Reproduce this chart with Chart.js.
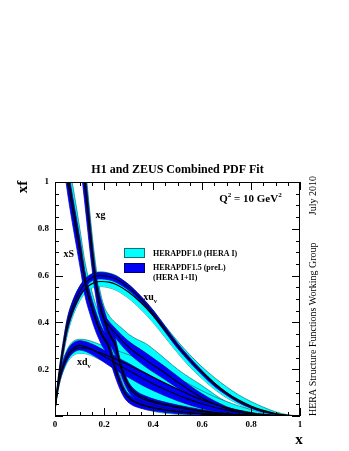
<!DOCTYPE html>
<html>
<head>
<meta charset="utf-8">
<title>H1 and ZEUS Combined PDF Fit</title>
<script src="https://cdn.jsdelivr.net/npm/chart.js@4.4.1/dist/chart.umd.min.js"></script>
<style>
  html, body { margin: 0; padding: 0; background: #fff; }
  #pdfChart { display: block; }
</style>
</head>
<body>
<canvas id="pdfChart" width="349" height="451"></canvas>
<script>
// x grid shared by the valence distributions
const xValence = [0, 0.005, 0.01, 0.02, 0.03, 0.05, 0.07, 0.1, 0.13, 0.16, 0.19, 0.22, 0.25, 0.3, 0.35, 0.4, 0.45, 0.5, 0.55, 0.6, 0.65, 0.7, 0.75, 0.8, 0.85, 0.9, 0.95, 1];

// xu_v : HERAPDF1.5 (central, low, high) and HERAPDF1.0
const xuv15   = [0.03, 0.07, 0.12, 0.20, 0.27, 0.39, 0.46, 0.53, 0.575, 0.596, 0.60, 0.596, 0.585, 0.55, 0.50, 0.44, 0.37, 0.30, 0.24, 0.185, 0.135, 0.095, 0.062, 0.037, 0.019, 0.008, 0.002, 0];
const xuv15Lo = [0.025, 0.062, 0.105, 0.18, 0.245, 0.36, 0.432, 0.505, 0.558, 0.582, 0.586, 0.582, 0.571, 0.537, 0.487, 0.427, 0.358, 0.289, 0.230, 0.176, 0.127, 0.089, 0.057, 0.033, 0.016, 0.006, 0.001, 0];
const xuv15Hi = [0.035, 0.08, 0.135, 0.22, 0.293, 0.415, 0.485, 0.553, 0.592, 0.61, 0.613, 0.609, 0.598, 0.563, 0.513, 0.453, 0.382, 0.311, 0.250, 0.194, 0.143, 0.101, 0.067, 0.041, 0.022, 0.010, 0.003, 0];
const xuv10   = [0.03, 0.068, 0.116, 0.193, 0.26, 0.375, 0.443, 0.51, 0.55, 0.57, 0.575, 0.572, 0.562, 0.53, 0.485, 0.43, 0.365, 0.30, 0.24, 0.188, 0.14, 0.1, 0.068, 0.043, 0.024, 0.011, 0.003, 0];
const xuv10Lo = [0.022, 0.057, 0.1, 0.172, 0.236, 0.345, 0.418, 0.49, 0.532, 0.55, 0.553, 0.548, 0.537, 0.503, 0.456, 0.40, 0.335, 0.27, 0.21, 0.16, 0.115, 0.078, 0.05, 0.028, 0.013, 0.004, 0.001, 0];
const xuv10Hi = [0.036, 0.08, 0.135, 0.22, 0.293, 0.415, 0.485, 0.553, 0.594, 0.612, 0.616, 0.611, 0.6, 0.56, 0.51, 0.452, 0.385, 0.32, 0.262, 0.21, 0.165, 0.125, 0.09, 0.062, 0.038, 0.018, 0.005, 0];

// xd_v
const xdv15   = [0.035, 0.075, 0.11, 0.165, 0.205, 0.257, 0.287, 0.302, 0.295, 0.28, 0.262, 0.243, 0.224, 0.195, 0.165, 0.138, 0.113, 0.09, 0.07, 0.052, 0.037, 0.025, 0.016, 0.009, 0.004, 0.0015, 0.0003, 0];
const xdv15Lo = [0.03, 0.066, 0.097, 0.148, 0.185, 0.236, 0.266, 0.282, 0.274, 0.257, 0.237, 0.216, 0.196, 0.165, 0.135, 0.109, 0.086, 0.065, 0.047, 0.032, 0.021, 0.013, 0.007, 0.003, 0.001, 0, 0, 0];
const xdv15Hi = [0.04, 0.084, 0.123, 0.182, 0.225, 0.278, 0.308, 0.322, 0.316, 0.303, 0.287, 0.27, 0.252, 0.225, 0.195, 0.167, 0.14, 0.115, 0.093, 0.072, 0.053, 0.037, 0.025, 0.015, 0.007, 0.003, 0.001, 0];
const xdv10   = [0.035, 0.075, 0.11, 0.163, 0.2, 0.25, 0.278, 0.292, 0.29, 0.28, 0.268, 0.255, 0.242, 0.218, 0.192, 0.166, 0.14, 0.115, 0.09, 0.068, 0.05, 0.035, 0.023, 0.013, 0.007, 0.003, 0.001, 0];
const xdv10Lo = [0.028, 0.064, 0.095, 0.145, 0.18, 0.228, 0.255, 0.268, 0.265, 0.253, 0.238, 0.222, 0.205, 0.175, 0.145, 0.117, 0.09, 0.068, 0.049, 0.034, 0.022, 0.013, 0.007, 0.003, 0.001, 0, 0, 0];
const xdv10Hi = [0.042, 0.088, 0.128, 0.186, 0.23, 0.285, 0.315, 0.328, 0.325, 0.315, 0.303, 0.292, 0.28, 0.262, 0.24, 0.215, 0.19, 0.162, 0.135, 0.108, 0.083, 0.062, 0.043, 0.028, 0.016, 0.007, 0.002, 0];

// xS (sea)
const xSea    = [0.045, 0.053, 0.07, 0.09, 0.105, 0.122, 0.14, 0.165, 0.19, 0.218, 0.245, 0.265, 0.285, 0.31, 0.35, 0.4, 0.5, 0.6, 0.7, 0.8];
const xS15    = [1.06, 1.0, 0.89, 0.77, 0.68, 0.57, 0.495, 0.41, 0.345, 0.295, 0.2, 0.14, 0.095, 0.068, 0.048, 0.034, 0.018, 0.009, 0.003, 0];
const xS15Lo  = [1.0, 0.94, 0.83, 0.71, 0.62, 0.515, 0.445, 0.365, 0.305, 0.257, 0.17, 0.115, 0.075, 0.05, 0.033, 0.022, 0.01, 0.004, 0.001, 0];
const xS15Hi  = [1.12, 1.06, 0.95, 0.83, 0.735, 0.62, 0.54, 0.45, 0.38, 0.327, 0.23, 0.165, 0.115, 0.085, 0.063, 0.046, 0.026, 0.014, 0.005, 0];
const xS10    = [1.09, 1.03, 0.92, 0.795, 0.7, 0.587, 0.51, 0.422, 0.355, 0.304, 0.208, 0.146, 0.1, 0.072, 0.051, 0.036, 0.019, 0.01, 0.003, 0];
const xS10Lo  = [1.06, 1.0, 0.89, 0.77, 0.68, 0.57, 0.495, 0.41, 0.345, 0.295, 0.19, 0.125, 0.082, 0.055, 0.035, 0.02, 0.007, 0.002, 0, 0];
const xS10Hi  = [1.17, 1.11, 1.0, 0.875, 0.775, 0.66, 0.575, 0.48, 0.408, 0.352, 0.25, 0.18, 0.128, 0.095, 0.072, 0.054, 0.031, 0.017, 0.007, 0];

// xg (gluon): steep part and the harder high-x branch
const xGluon  = [0.11, 0.12, 0.135, 0.15, 0.165, 0.18, 0.2, 0.22, 0.245, 0.27, 0.3, 0.33, 0.37, 0.42, 0.5, 0.6, 0.7, 0.8, 0.9];
const xg15    = [1.1, 1.0, 0.85, 0.7, 0.57, 0.48, 0.41, 0.35, 0.3, 0.2, 0.125, 0.09, 0.068, 0.052, 0.035, 0.019, 0.008, 0.002, 0];
const xg15Lo  = [1.02, 0.925, 0.78, 0.64, 0.52, 0.435, 0.37, 0.315, 0.265, 0.175, 0.105, 0.072, 0.052, 0.038, 0.024, 0.012, 0.004, 0.001, 0];
const xg15Hi  = [1.18, 1.075, 0.92, 0.76, 0.625, 0.53, 0.455, 0.39, 0.335, 0.225, 0.145, 0.108, 0.085, 0.067, 0.047, 0.027, 0.012, 0.004, 0];
const xg10    = [1.13, 1.03, 0.875, 0.72, 0.59, 0.495, 0.42, 0.36, 0.31, 0.21, 0.135, 0.098, 0.075, 0.058, 0.04, 0.022, 0.01, 0.003, 0];
const xg10Lo  = [1.05, 0.955, 0.81, 0.665, 0.545, 0.455, 0.385, 0.328, 0.278, 0.185, 0.112, 0.078, 0.057, 0.042, 0.027, 0.014, 0.005, 0.001, 0];
const xg10Hi  = [1.22, 1.11, 0.95, 0.79, 0.655, 0.555, 0.47, 0.43, 0.4, 0.378, 0.35, 0.33, 0.31, 0.27, 0.2, 0.13, 0.06, 0.02, 0];
const xGluonHigh = [0.19, 0.2, 0.25, 0.3, 0.37, 0.45, 0.5, 0.55, 0.6, 0.65, 0.7, 0.75, 0.8, 0.88];
const xgHigh     = [0.44, 0.415, 0.35, 0.295, 0.24, 0.183, 0.145, 0.11, 0.078, 0.052, 0.032, 0.017, 0.007, 0];
const xgHighLo   = [0.435, 0.40, 0.33, 0.27, 0.21, 0.155, 0.12, 0.09, 0.062, 0.04, 0.024, 0.012, 0.005, 0];
const xgHighHi   = [0.445, 0.43, 0.37, 0.32, 0.27, 0.21, 0.17, 0.13, 0.095, 0.065, 0.04, 0.022, 0.01, 0];

// axis ticks
const xTickLabels = ['0', '0.2', '0.4', '0.6', '0.8', '1'];
const yTickLabels = ['', '0.2', '0.4', '0.6', '0.8', '1'];

const SERIF = '"Liberation Serif", "Times New Roman", Times, serif';
const CYAN = '#00ffff';
const CYAN_EDGE = '#127070';
const BLUE = '#0000f5';
const BLUE_EDGE = '#000070';

function pts(xs, ys) {
    return xs.map((x, i) => ({ x: x, y: ys[i] }));
}

// layers are pushed bottom first
const layers = [];
function addBand(xs, lo, hi, fillColor, edgeColor) {
    layers.push({ data: pts(xs, lo), borderColor: edgeColor, borderWidth: 0.7, fill: false });
    layers.push({ data: pts(xs, hi), borderColor: edgeColor, borderWidth: 0.7, backgroundColor: fillColor, fill: '-1' });
}
function addLine(xs, ys) {
    layers.push({ data: pts(xs, ys), borderColor: '#000', borderWidth: 1.1, fill: false });
}

// HERAPDF1.0 bands underneath, HERAPDF1.5 bands on top, central values last
addBand(xGluon, xg10Lo, xg10Hi, CYAN, CYAN_EDGE);
addBand(xValence, xdv10Lo, xdv10Hi, CYAN, CYAN_EDGE);
addBand(xSea, xS10Lo, xS10Hi, CYAN, CYAN_EDGE);
addBand(xValence, xuv10Lo, xuv10Hi, CYAN, CYAN_EDGE);
addBand(xGluonHigh, xgHighLo, xgHighHi, BLUE, BLUE_EDGE);
addBand(xValence, xdv15Lo, xdv15Hi, BLUE, BLUE_EDGE);
addBand(xGluon, xg15Lo, xg15Hi, BLUE, BLUE_EDGE);
addBand(xSea, xS15Lo, xS15Hi, BLUE, BLUE_EDGE);
addBand(xValence, xuv15Lo, xuv15Hi, BLUE, BLUE_EDGE);
addLine(xGluon, xg10);
addLine(xGluon, xg15);
addLine(xGluonHigh, xgHigh);
addLine(xValence, xdv10);
addLine(xValence, xdv15);
addLine(xSea, xS10);
addLine(xSea, xS15);
addLine(xValence, xuv10);
addLine(xValence, xuv15);

const datasets = layers.map((d, i) => Object.assign({
    order: layers.length - i,
    pointRadius: 0,
    cubicInterpolationMode: 'monotone'
}, d));

// curve labels, in data coordinates
const curveLabels = [
    { parts: [{ t: 'xg' }], x: 0.165, y: 0.845 },
    { parts: [{ t: 'xS' }], x: 0.035, y: 0.68 },
    { parts: [{ t: 'xu' }, { t: 'v', sub: true }], x: 0.36, y: 0.495 },
    { parts: [{ t: 'xd' }, { t: 'v', sub: true }], x: 0.09, y: 0.22 }
];

function drawParts(ctx, parts, x, y, size) {
    let cx = x;
    parts.forEach(p => {
        const s = (p.sub || p.sup) ? size * 0.65 : size;
        ctx.font = `bold ${s}px ${SERIF}`;
        const dy = p.sub ? size * 0.3 : (p.sup ? -size * 0.4 : 0);
        ctx.fillText(p.t, cx, y + dy);
        cx += ctx.measureText(p.t).width;
    });
}

const decorations = {
    id: 'decorations',
    afterDatasetsDraw(chart) {
        const ctx = chart.ctx;
        const a = chart.chartArea;
        const xs = chart.scales.x;
        const ys = chart.scales.y;
        ctx.save();
        ctx.strokeStyle = '#000';
        ctx.lineWidth = 1;
        ctx.strokeRect(a.left + 0.5, a.top + 0.5, a.right - a.left - 1, a.bottom - a.top - 1);
        // inward ticks on all four sides
        ctx.beginPath();
        for (let i = 0; i <= 20; i++) {
            const len = i % 4 === 0 ? 8 : 4;
            const px = Math.round(xs.getPixelForValue(i * 0.05)) + 0.5;
            const py = Math.round(ys.getPixelForValue(i * 0.05)) + 0.5;
            ctx.moveTo(px, a.bottom); ctx.lineTo(px, a.bottom - len);
            ctx.moveTo(px, a.top); ctx.lineTo(px, a.top + len);
            ctx.moveTo(a.left, py); ctx.lineTo(a.left + len, py);
            ctx.moveTo(a.right, py); ctx.lineTo(a.right - len, py);
        }
        ctx.stroke();

        ctx.fillStyle = '#000';
        ctx.textBaseline = 'alphabetic';
        ctx.textAlign = 'left';
        curveLabels.forEach(l => {
            drawParts(ctx, l.parts, xs.getPixelForValue(l.x), ys.getPixelForValue(l.y), 10);
        });

        // Q2 label
        drawParts(ctx, [{ t: 'Q' }, { t: '2', sup: true }, { t: ' = 10 GeV' }, { t: '2', sup: true }],
            xs.getPixelForValue(0.67), ys.getPixelForValue(0.915), 11);

        // legend
        const lx = a.left + 69, ly = a.top + 66;
        ctx.lineWidth = 1;
        ctx.fillStyle = CYAN; ctx.strokeStyle = CYAN_EDGE;
        ctx.fillRect(lx, ly, 21, 10); ctx.strokeRect(lx + 0.5, ly + 0.5, 20, 9);
        ctx.fillStyle = BLUE; ctx.strokeStyle = BLUE_EDGE;
        ctx.fillRect(lx, ly + 15, 21, 10); ctx.strokeRect(lx + 0.5, ly + 15.5, 20, 9);
        ctx.fillStyle = '#000';
        ctx.font = `bold 8px ${SERIF}`;
        ctx.fillText('HERAPDF1.0 (HERA I)', lx + 29, ly + 8);
        ctx.fillText('HERAPDF1.5 (preL)', lx + 29, ly + 22);
        ctx.fillText('(HERA I+II)', lx + 29, ly + 32);
        ctx.restore();
    },
    afterDraw(chart) {
        const ctx = chart.ctx;
        const a = chart.chartArea;
        ctx.save();
        ctx.fillStyle = '#000';
        ctx.textAlign = 'center';
        ctx.textBaseline = 'alphabetic';
        ctx.font = `bold 12px ${SERIF}`;
        ctx.fillText('H1 and ZEUS Combined PDF Fit', (a.left + a.right) / 2, a.top - 9);

        ctx.font = `bold 15px ${SERIF}`;
        ctx.fillText('x', a.right - 1, 444);

        // rotated texts
        ctx.save();
        ctx.translate(27, a.top + 5);
        ctx.rotate(-Math.PI / 2);
        ctx.textAlign = 'center';
        ctx.fillText('xf', 0, 0);
        ctx.restore();

        ctx.save();
        ctx.translate(a.right + 16, 0);
        ctx.rotate(-Math.PI / 2);
        ctx.font = `10px ${SERIF}`;
        ctx.textAlign = 'left';
        ctx.fillText('HERA Structure Functions Working Group', -a.bottom, 0);
        ctx.textAlign = 'right';
        ctx.fillText('July 2010', -(a.top - 6), 0);
        ctx.restore();
        ctx.restore();
    }
};

new Chart(document.getElementById('pdfChart'), {
    type: 'line',
    data: { datasets: datasets },
    options: {
        responsive: false,
        animation: false,
        devicePixelRatio: 1,
        layout: { padding: { left: 0, top: 182, right: 49, bottom: 0 } },
        plugins: {
            legend: { display: false },
            tooltip: { enabled: false },
            title: { display: false }
        },
        scales: {
            x: {
                type: 'linear',
                min: 0,
                max: 1,
                grid: { display: false, drawTicks: false },
                border: { display: false },
                afterFit: s => { s.height = 35; },
                ticks: {
                    stepSize: 0.2,
                    padding: 3,
                    color: '#000',
                    font: { family: SERIF, size: 9, weight: 'bold' },
                    callback: (v) => xTickLabels[Math.round(v * 5)] ?? ''
                }
            },
            y: {
                type: 'linear',
                min: 0,
                max: 1,
                grid: { display: false, drawTicks: false },
                border: { display: false },
                afterFit: s => { s.width = 55; },
                ticks: {
                    stepSize: 0.2,
                    padding: 6,
                    color: '#000',
                    font: { family: SERIF, size: 9, weight: 'bold' },
                    callback: (v) => yTickLabels[Math.round(v * 5)] ?? ''
                }
            }
        }
    },
    plugins: [decorations]
});
</script>
</body>
</html>
